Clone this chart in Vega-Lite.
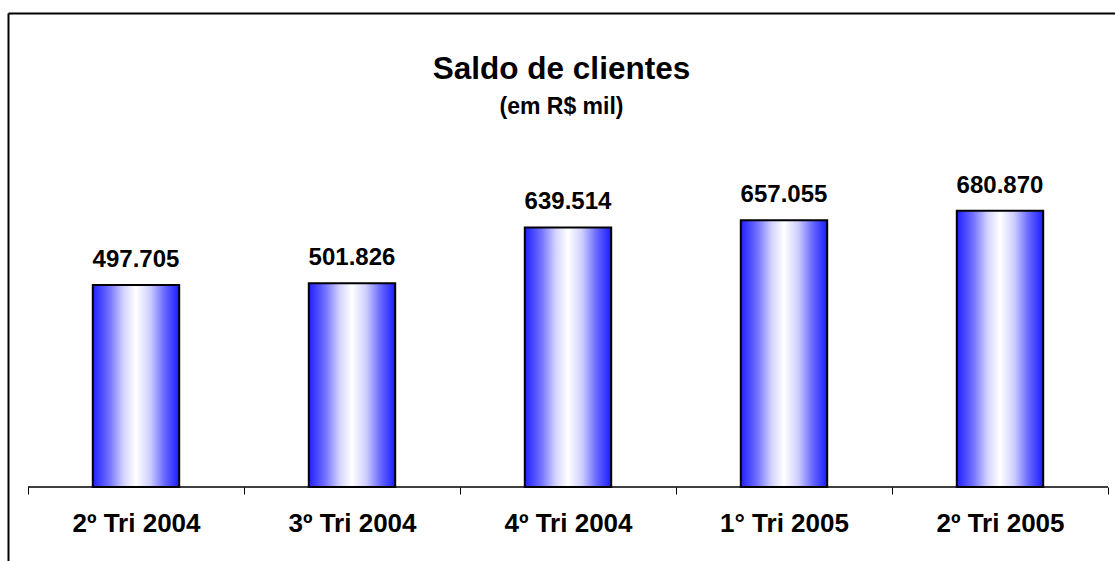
{
  "$schema": "https://vega.github.io/schema/vega-lite/v6.json",
  "width": 1107,
  "height": 548,
  "autosize": {"type": "none"},
  "padding": {"left": 8, "top": 13, "right": 0, "bottom": 0},
  "background": "white",
  "config": {
    "view": {"stroke": null},
    "font": "Liberation Sans",
    "locale": {"number": {"decimal": ",", "thousands": ".", "grouping": [3], "currency": ["R$", ""]}}
  },
  "title": {
    "text": "Saldo de clientes",
    "subtitle": "(em R$ mil)",
    "anchor": "middle",
    "font": "Liberation Sans",
    "fontSize": 31.5,
    "fontWeight": "bold",
    "color": "black",
    "subtitleFont": "Liberation Sans",
    "subtitleFontSize": 23,
    "subtitleFontWeight": "bold",
    "subtitleColor": "black",
    "subtitlePadding": 11,
    "offset": -106
  },
  "data": {
    "values": [
      {"periodo": "2º Tri 2004", "saldo": 497705},
      {"periodo": "3º Tri 2004", "saldo": 501826},
      {"periodo": "4º Tri 2004", "saldo": 639514},
      {"periodo": "1° Tri 2005", "saldo": 657055},
      {"periodo": "2º Tri 2005", "saldo": 680870}
    ]
  },
  "resolve": {"axis": {"x": "independent"}},
  "layer": [
    {
      "mark": {
        "type": "bar",
        "width": {"band": 0.4},
        "stroke": "black",
        "strokeWidth": 2,
        "fill": {
          "gradient": "linear",
          "x1": 0, "y1": 0, "x2": 1, "y2": 0,
          "stops": [
            {"offset": 0, "color": "#2020ff"},
            {"offset": 0.18, "color": "#6c6cff"},
            {"offset": 0.36, "color": "#d4d4ff"},
            {"offset": 0.5, "color": "#ffffff"},
            {"offset": 0.66, "color": "#d0d0ff"},
            {"offset": 0.84, "color": "#6464ff"},
            {"offset": 1, "color": "#1c1cff"}
          ]
        }
      },
      "encoding": {
        "x": {
          "field": "periodo",
          "type": "nominal",
          "sort": null,
          "scale": {"paddingInner": 0, "paddingOuter": 0.0625, "align": 0.7407},
          "axis": {
            "orient": "bottom",
            "title": null,
            "offset": -74,
            "domain": false,
            "ticks": true,
            "tickBand": "extent",
            "tickSize": 7,
            "tickWidth": 1,
            "tickColor": "black",
            "labelAngle": 0,
            "labelFont": "Liberation Sans",
            "labelFontSize": 26,
            "labelFontWeight": "bold",
            "labelColor": "black",
            "labelPadding": 16
          }
        },
        "y": {
          "field": "saldo",
          "type": "quantitative",
          "scale": {"domain": [-182300, 1167900], "nice": false, "zero": false},
          "axis": {
            "orient": "left",
            "title": null,
            "labels": false,
            "ticks": false,
            "grid": false,
            "domain": true,
            "domainColor": "black",
            "domainWidth": 2
          }
        },
        "y2": {"datum": 0}
      }
    },
    {
      "mark": {"type": "text", "baseline": "alphabetic", "dy": -18, "fontSize": 24, "fontWeight": "bold", "color": "black", "font": "Liberation Sans"},
      "encoding": {
        "x": {"field": "periodo", "type": "nominal", "sort": null, "axis": null},
        "y": {
          "field": "saldo",
          "type": "quantitative",
          "axis": {
            "orient": "left",
            "title": null,
            "labels": false,
            "ticks": false,
            "grid": false,
            "domain": true,
            "domainColor": "black",
            "domainWidth": 2
          }
        },
        "text": {"field": "saldo", "type": "quantitative", "format": ",.0f"}
      }
    },
    {
      "mark": {"type": "bar", "fill": null, "stroke": "black", "strokeWidth": 1},
      "encoding": {
        "x": {
          "field": "periodo",
          "type": "nominal",
          "sort": null,
          "axis": {
            "orient": "top",
            "title": null,
            "labels": false,
            "ticks": false,
            "grid": false,
            "domain": true,
            "domainColor": "black",
            "domainWidth": 2
          }
        },
        "y": {
          "datum": 0,
          "type": "quantitative",
          "axis": {
            "orient": "left",
            "title": null,
            "labels": false,
            "ticks": false,
            "grid": false,
            "domain": true,
            "domainColor": "black",
            "domainWidth": 2
          }
        },
        "y2": {"datum": 0}
      }
    }
  ]
}
